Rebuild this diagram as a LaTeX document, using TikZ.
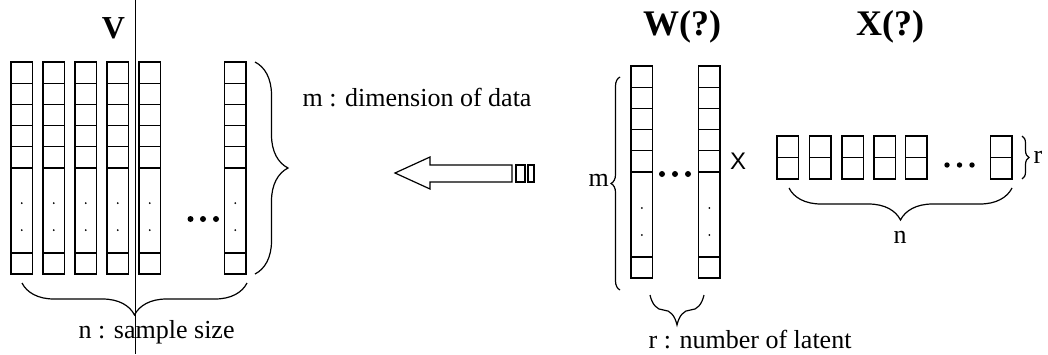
\documentclass[tikz,border=0pt]{standalone}
\usepackage{fontspec}
\setmainfont{Liberation Serif}
\newfontfamily\arialf{Liberation Sans}
\usetikzlibrary{decorations.pathreplacing}
\begin{document}
\begin{tikzpicture}[x=1pt,y=-1pt, line width=1.2pt,
  cell/.style={draw, line width=1.2pt},
  lbl/.style={font=\fontsize{26}{30}\selectfont, inner sep=0pt},
  ttl/.style={font=\fontsize{36}{40}\selectfont\bfseries, inner sep=0pt},
  brc/.style={decorate, decoration={brace, amplitude=#1}, line width=1.2pt}]
\useasboundingbox (0,0) rectangle (1048,354);
% ---------- V ----------
\foreach \x in {11,43,75,107,139,224.5} {
  \draw[cell] (\x,62) rectangle ++(21.5,212);
  \foreach \y in {83.2,104.4,125.6,146.8,168,253} \draw[cell] (\x,\y) -- ++(21.5,0);
  \fill (\x+10.75,203) circle (1pt);
  \fill (\x+10.75,230) circle (1pt);
}
\foreach \x in {190.5,203,216} \fill (\x,219) circle (3pt);
\node[ttl, font=\fontsize{32}{36}\selectfont\bfseries] (V) at (113.5,28) {V};
\draw[line width=0.8pt] (135,0) -- (135,354);
\draw[brc=33] (255,62) -- (255,274);
\node[lbl, anchor=base west] (mdim) at (302,106) {m : dimension of data};
\draw[brc=32] (247,283) -- (22,283);
\node[lbl, anchor=base west] (nsize) at (78,338) {n : sample size};
% ---------- arrow ----------
\draw[line width=1.2pt] (395,173) -- (430,157) -- (430,165) -- (512,165) -- (512,182) -- (430,182) -- (430,189) -- cycle;
\draw[line width=1.2pt] (516,165) rectangle (525,182);
\draw[line width=1.2pt] (528,165) rectangle (534,182);
% ---------- W ----------
\foreach \x in {631,698.5} {
  \draw[cell] (\x,66) rectangle ++(21.5,212);
  \foreach \y in {87.2,108.4,129.6,150.8,172,257} \draw[cell] (\x,\y) -- ++(21.5,0);
  \fill (\x+10.75,208) circle (1pt);
  \fill (\x+10.75,235) circle (1pt);
}
\foreach \x in {662,675,688} \fill (\x,174) circle (3pt);
\node[ttl] (W) at (682,27) {W(?)};
\draw[brc=9] (620,290) -- (620,77);
\node[lbl, anchor=base west] (mW) at (588,186) {m};
\draw[brc=30] (704,295) -- (650,295);
\node[lbl, anchor=base west] (rlat) at (648,348) {r : number of latent};
\node[font=\arialf\fontsize{24}{28}\selectfont, inner sep=0pt] (times) at (738,161.5) {X};
% ---------- X ----------
\foreach \x in {777,809.5,842,874,905.5,990.5} {
  \draw[cell] (\x,136) rectangle ++(21.5,43);
  \draw[cell] (\x,157.5) -- ++(21.5,0);
}
\foreach \x in {947,959.5,972} \fill (\x,165) circle (2.7pt);
\node[ttl] (X) at (890,27) {X(?)};
\draw[brc=7] (1022,136) -- (1022,179);
\node[lbl, anchor=base west] (rX) at (1033,163) {r};
\draw[brc=32] (1012,188) -- (789,188);
\node[lbl, anchor=base] (nX) at (900,243) {n};
\end{tikzpicture}
\end{document}
